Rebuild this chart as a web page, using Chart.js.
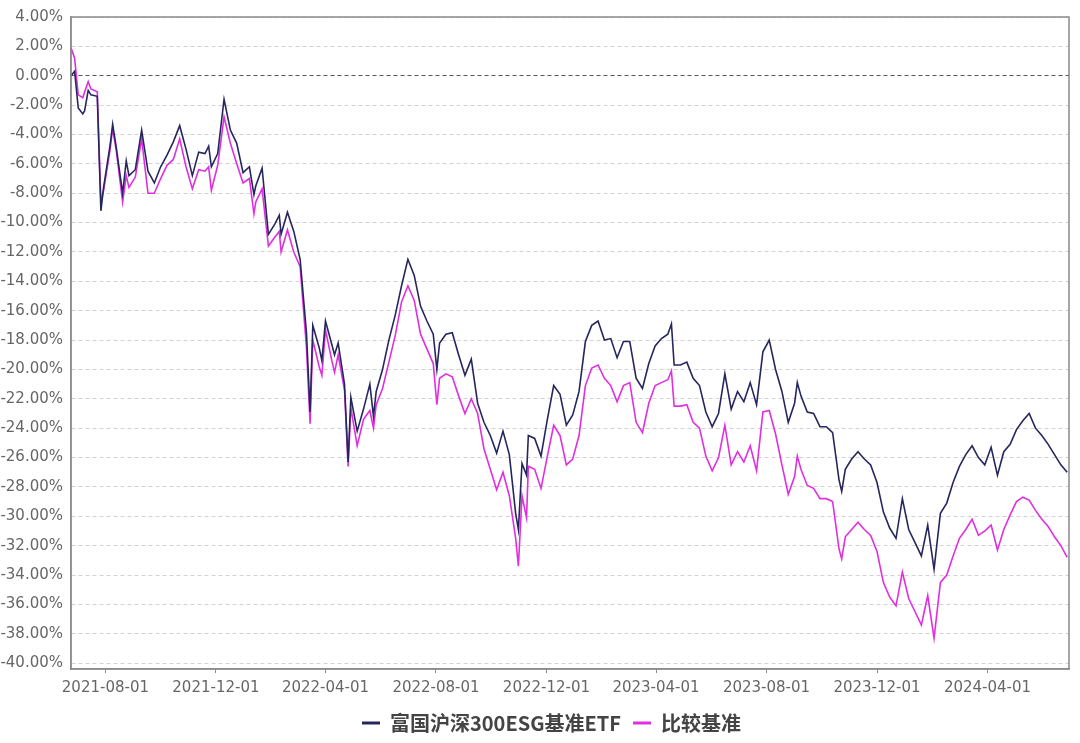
<!DOCTYPE html>
<html>
<head>
<meta charset="utf-8">
<script src="https://cdn.jsdelivr.net/npm/chart.js@4.4.1/dist/chart.umd.min.js"></script>
<style>
  body { margin: 0; background: #fff; }
  #wrap { width: 1080px; height: 743px; position: relative; }
</style>
</head>
<body>
<div id="wrap"><canvas id="chart"></canvas></div>
<script>
// ==================== DATA ====================
const dates = [
  '2021-06-24','2021-06-28','2021-07-02','2021-07-07','2021-07-09','2021-07-13','2021-07-16','2021-07-23','2021-07-27','2021-07-30',
  '2021-08-06','2021-08-09','2021-08-13','2021-08-20','2021-08-24','2021-08-27','2021-09-03','2021-09-10','2021-09-17','2021-09-24',
  '2021-10-01','2021-10-08','2021-10-15','2021-10-22','2021-10-29','2021-11-05','2021-11-12','2021-11-19','2021-11-23','2021-11-26',
  '2021-12-03','2021-12-10','2021-12-17','2021-12-24','2021-12-31',
  '2022-01-07','2022-01-12','2022-01-14','2022-01-21','2022-01-28','2022-02-04','2022-02-09','2022-02-11','2022-02-18','2022-02-25',
  '2022-03-04','2022-03-11','2022-03-15','2022-03-18','2022-03-25','2022-03-28','2022-04-01','2022-04-08','2022-04-11','2022-04-15',
  '2022-04-22','2022-04-26','2022-04-29','2022-05-06','2022-05-13','2022-05-20','2022-05-24','2022-05-27','2022-06-03','2022-06-10',
  '2022-06-17','2022-06-24','2022-07-01','2022-07-08','2022-07-15','2022-07-22','2022-07-29','2022-08-02','2022-08-05','2022-08-12',
  '2022-08-19','2022-08-26','2022-09-02','2022-09-09','2022-09-16','2022-09-23','2022-09-30','2022-10-07','2022-10-14','2022-10-21',
  '2022-10-28','2022-10-31','2022-11-04','2022-11-09','2022-11-11','2022-11-18','2022-11-25','2022-12-02','2022-12-09','2022-12-16',
  '2022-12-23','2022-12-30',
  '2023-01-06','2023-01-13','2023-01-20','2023-01-27','2023-02-03','2023-02-10','2023-02-17','2023-02-24','2023-03-03','2023-03-10',
  '2023-03-17','2023-03-24','2023-03-31','2023-04-07','2023-04-14','2023-04-18','2023-04-21','2023-04-28','2023-05-05','2023-05-12',
  '2023-05-19','2023-05-26','2023-06-02','2023-06-09','2023-06-16','2023-06-23','2023-06-30','2023-07-07','2023-07-14','2023-07-21',
  '2023-07-28','2023-08-04','2023-08-11','2023-08-18','2023-08-25','2023-09-01','2023-09-04','2023-09-08','2023-09-15','2023-09-22',
  '2023-09-29','2023-10-06','2023-10-13','2023-10-20','2023-10-23','2023-10-27','2023-11-03','2023-11-10','2023-11-17','2023-11-24',
  '2023-12-01','2023-12-08','2023-12-15','2023-12-22','2023-12-29',
  '2024-01-05','2024-01-12','2024-01-19','2024-01-26','2024-02-02','2024-02-09','2024-02-16','2024-02-23','2024-03-01','2024-03-08',
  '2024-03-15','2024-03-22','2024-03-29','2024-04-05','2024-04-12','2024-04-19','2024-04-26','2024-05-03','2024-05-10','2024-05-17',
  '2024-05-24','2024-05-31','2024-06-07','2024-06-14','2024-06-21','2024-06-28'
];

// 富国沪深300ESG基准ETF (%)
const etfValues = [
  0.0, 0.3, -2.2, -2.6, -2.4, -1.0, -1.3, -1.4, -9.2, -7.6,
  -4.8, -3.3, -4.9, -8.0, -5.8, -6.8, -6.4, -3.7, -6.5, -7.3,
  -6.2, -5.4, -4.5, -3.4, -5.0, -6.8, -5.2, -5.3, -4.8, -6.2,
  -5.3, -1.6, -3.7, -4.6, -6.6,
  -6.2, -8.1, -7.5, -6.3, -10.8, -10.1, -9.5, -10.8, -9.3, -10.6,
  -12.5, -17.5, -22.9, -17.0, -18.5, -19.4, -16.7, -18.3, -19.0, -18.2,
  -21.0, -26.3, -21.9, -24.2, -22.7, -21.0, -23.2, -21.5, -20.0, -18.0,
  -16.3, -14.3, -12.5, -13.6, -15.7, -16.7, -17.6, -20.0, -18.2, -17.6,
  -17.5, -19.0, -20.4, -19.3, -22.3, -23.6, -24.5, -25.7, -24.2, -25.8,
  -29.8, -30.9, -26.4, -27.2, -24.5, -24.7, -25.9, -23.4, -21.1, -21.7,
  -23.8, -23.1,
  -21.5, -18.1, -17.0, -16.7, -18.0, -17.9, -19.2, -18.1, -18.1, -20.6,
  -21.3, -19.6, -18.4, -17.9, -17.6, -16.9, -19.7, -19.7, -19.5, -20.6,
  -21.1, -22.9, -23.9, -23.0, -20.3, -22.7, -21.5, -22.2, -20.9, -22.4,
  -18.8, -18.0, -20.0, -21.5, -23.6, -22.3, -20.9, -21.8, -22.9, -23.0,
  -23.9, -23.9, -24.3, -27.5, -28.3, -26.8, -26.1, -25.6, -26.1, -26.5,
  -27.7, -29.7, -30.8, -31.5, -28.8,
  -30.9, -31.8, -32.7, -30.6, -33.6, -29.8, -29.1, -27.7, -26.6, -25.8,
  -25.2, -26.0, -26.5, -25.3, -27.2, -25.6, -25.1, -24.1, -23.5, -23.0,
  -24.0, -24.5, -25.1, -25.8, -26.5, -27.0
];

// 比较基准 (%)
const benchValues = [
  1.9, 1.2, -1.3, -1.5, -1.1, -0.4, -0.9, -1.1, -8.6, -7.8,
  -5.1, -3.6, -5.1, -8.6, -6.8, -7.6, -6.9, -4.3, -8.0, -8.0,
  -7.0, -6.1, -5.7, -4.3, -6.2, -7.7, -6.4, -6.5, -6.2, -7.8,
  -6.1, -2.8, -4.6, -6.0, -7.3,
  -7.0, -9.4, -8.6, -7.7, -11.6, -11.0, -10.6, -12.0, -10.5, -12.0,
  -13.0, -18.5, -23.7, -18.0, -19.8, -20.4, -17.3, -19.4, -20.2, -19.0,
  -21.4, -26.6, -22.6, -25.2, -23.4, -22.8, -24.0, -22.4, -21.3, -19.5,
  -17.7, -15.4, -14.3, -15.3, -17.6, -18.6, -19.6, -22.4, -20.6, -20.3,
  -20.5, -21.8, -23.0, -22.0, -23.0, -25.4, -26.8, -28.2, -27.0, -28.6,
  -31.5, -33.4, -28.6, -30.1, -26.6, -26.8, -28.1, -25.9, -23.8, -24.5,
  -26.5, -26.1,
  -24.5, -21.1, -19.9, -19.7, -20.6, -21.1, -22.2, -21.1, -20.9, -23.6,
  -24.3, -22.3, -21.1, -20.9, -20.7, -20.1, -22.5, -22.5, -22.4, -23.6,
  -24.0, -25.9, -26.9, -26.0, -23.8, -26.5, -25.6, -26.3, -25.2, -26.9,
  -22.9, -22.8, -24.4, -26.5, -28.5, -27.3, -25.9, -26.8, -27.9, -28.1,
  -28.8, -28.8, -29.0, -32.2, -32.9, -31.4, -30.9, -30.4, -30.9, -31.3,
  -32.4, -34.5, -35.5, -36.1, -33.8,
  -35.6, -36.5, -37.4, -35.4, -38.3, -34.5, -34.0, -32.7, -31.5, -30.9,
  -30.2, -31.3, -31.0, -30.6, -32.3, -30.9, -29.9, -29.0, -28.7, -28.9,
  -29.6, -30.2, -30.7, -31.4, -32.0, -32.8
];

const seriesNames = ['富国沪深300ESG基准ETF', '比较基准'];
const xTickLabels = ['2021-08-01','2021-12-01','2022-04-01','2022-08-01','2022-12-01',
                     '2023-04-01','2023-08-01','2023-12-01','2024-04-01'];
const yTickValues = [4, 2, 0, -2, -4, -6, -8, -10, -12, -14, -16, -18, -20, -22,
                     -24, -26, -28, -30, -32, -34, -36, -38, -40];

// ==================== CHART ====================
function dayNum(s) {
  const [y, m, d] = s.split('-').map(Number);
  return Date.UTC(y, m - 1, d) / 86400000;
}

const tickFont = { family: 'DejaVu Sans', size: 15 };
const tickColor = '#666';

// grey box round the plot area, legend nudged right like the original
const framePlugin = {
  id: 'frame',
  afterLayout(chart) {
    if (chart.legend) {
      chart.legend.left += 17;
      chart.legend.right += 17;
    }
  },
  afterDatasetsDraw(chart) {
    const { ctx, chartArea: a } = chart;
    ctx.save();
    ctx.strokeStyle = '#8a8a8a';
    ctx.lineWidth = 1.5;
    ctx.strokeRect(a.left, a.top, a.right - a.left, a.bottom - a.top);
    ctx.restore();
  }
};

const ctx = document.getElementById('chart').getContext('2d');
new Chart(ctx, {
  type: 'line',
  data: {
    datasets: [
      {
        label: seriesNames[0],
        data: dates.map((d, i) => ({ x: dayNum(d), y: etfValues[i] })),
        borderColor: '#26265e',
        backgroundColor: '#26265e',
        borderWidth: 1.6,
        pointRadius: 0,
        tension: 0
      },
      {
        label: seriesNames[1],
        data: dates.map((d, i) => ({ x: dayNum(d), y: benchValues[i] })),
        borderColor: '#e02fe0',
        backgroundColor: '#e02fe0',
        borderWidth: 1.6,
        pointRadius: 0,
        tension: 0
      }
    ]
  },
  options: {
    responsive: true,
    maintainAspectRatio: false,
    animation: false,
    layout: { padding: { top: 15, right: 11, bottom: 0, left: 0 } },
    plugins: {
      tooltip: { enabled: false },
      legend: {
        position: 'bottom',
        labels: {
          usePointStyle: true,
          pointStyle: 'line',
          pointStyleWidth: 18,
          color: '#444',
          font: { family: 'Noto Sans CJK SC', size: 20, weight: 'bold' },
          padding: 12,
          generateLabels(chart) {
            return Chart.defaults.plugins.legend.labels.generateLabels(chart)
              .map(l => Object.assign(l, { lineWidth: 3 }));
          }
        }
      }
    },
    scales: {
      x: {
        type: 'linear',
        min: dayNum('2021-06-24'),
        max: dayNum('2024-06-30'),
        afterBuildTicks: s => { s.ticks = xTickLabels.map(t => ({ value: dayNum(t) })); },
        afterFit: s => { s.height = 32; },
        ticks: {
          autoSkip: false,
          maxRotation: 0,
          color: tickColor,
          font: tickFont,
          padding: 6,
          callback: v => xTickLabels.find(t => dayNum(t) === v) || ''
        },
        grid: { drawOnChartArea: false, drawTicks: true, tickLength: 4, color: '#8a8a8a' },
        border: { color: '#8a8a8a', width: 1.5 }
      },
      y: {
        min: -40.4,
        max: 4,
        afterBuildTicks: s => { s.ticks = yTickValues.map(v => ({ value: v })); },
        afterFit: s => { s.width = 71; },
        ticks: {
          color: tickColor,
          font: tickFont,
          padding: 8,
          callback: v => v.toFixed(2) + '%'
        },
        grid: {
          drawTicks: false,
          lineWidth: 1,
          color: c => (c.tick && c.tick.value === 0) ? '#555' : '#d2d2d2'
        },
        border: { color: '#8a8a8a', width: 1.5, dash: [4, 3] }
      }
    }
  },
  plugins: [framePlugin]
});
</script>
</body>
</html>
